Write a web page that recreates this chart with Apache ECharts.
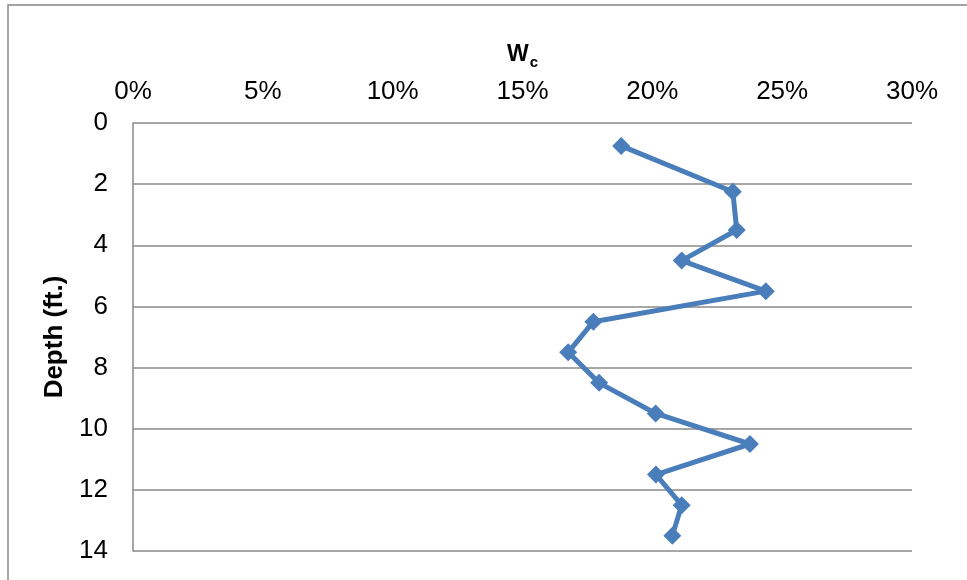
<!DOCTYPE html>
<html>
<head>
<meta charset="utf-8">
<script src="https://cdn.jsdelivr.net/npm/echarts@6/dist/echarts.min.js"></script>
<style>
  html, body { margin: 0; padding: 0; background: #fff; }
  #chart { width: 967px; height: 580px; }
</style>
</head>
<body>
<div id="chart"></div>
<script>
// Water content profile with depth
const depthFt = [0.75, 2.25, 3.5, 4.5, 5.5, 6.5, 7.5, 8.5, 9.5, 10.5, 11.5, 12.5, 13.5];
const waterContent = [0.188, 0.231, 0.2325, 0.2113, 0.2437, 0.1773, 0.1676, 0.1795, 0.2013, 0.2376, 0.2014, 0.2113, 0.2077];
const xTicks = [0, 0.05, 0.10, 0.15, 0.20, 0.25, 0.30];
const yTicks = [0, 2, 4, 6, 8, 10, 12, 14];

const chart = echarts.init(document.getElementById('chart'), null, { renderer: 'canvas' });
const font = 'Liberation Sans, Arial, sans-serif';

chart.setOption({
  animation: false,
  backgroundColor: '#fff',
  graphic: [{
    type: 'rect',
    shape: { x: 8, y: 5, width: 980, height: 600 },
    style: { fill: 'none', stroke: '#888', lineWidth: 1.5 }
  }],
  title: {
    text: '{w|W}{c|c}',
    left: 502,
    top: 34,
    textStyle: {
      rich: {
        w: { fontFamily: font, fontWeight: 'bold', fontSize: 23, color: '#000' },
        c: { fontFamily: font, fontWeight: 'bold', fontSize: 15, color: '#000', padding: [16, 0, 0, 1] }
      }
    }
  },
  grid: { left: 133, top: 123, right: 55, bottom: 29, containLabel: false },
  xAxis: {
    type: 'value',
    position: 'top',
    min: xTicks[0],
    max: xTicks[xTicks.length - 1],
    interval: 0.05,
    axisLine: { show: false },
    axisTick: { show: false },
    splitLine: { show: false },
    axisLabel: {
      margin: 18,
      fontFamily: font,
      fontSize: 26,
      color: '#000',
      formatter: v => Math.round(v * 100) + '%'
    }
  },
  yAxis: {
    type: 'value',
    inverse: true,
    min: yTicks[0],
    max: yTicks[yTicks.length - 1],
    interval: 2,
    name: 'Depth (ft.)',
    nameLocation: 'middle',
    nameRotate: 90,
    nameGap: 64,
    nameTextStyle: { fontFamily: font, fontWeight: 'bold', fontSize: 26, color: '#000' },
    axisLine: { show: true, lineStyle: { color: '#888', width: 1.5 } },
    axisTick: { show: false },
    splitLine: { show: true, lineStyle: { color: '#888', width: 1.5 } },
    axisLabel: { margin: 25, fontFamily: font, fontSize: 26, color: '#000' }
  },
  series: [{
    type: 'line',
    data: depthFt.map((d, i) => [waterContent[i], d]),
    symbol: 'diamond',
    symbolSize: 18,
    lineStyle: { color: '#4A7EBB', width: 5 },
    itemStyle: { color: '#4A7EBB' }
  }]
});
</script>
</body>
</html>
